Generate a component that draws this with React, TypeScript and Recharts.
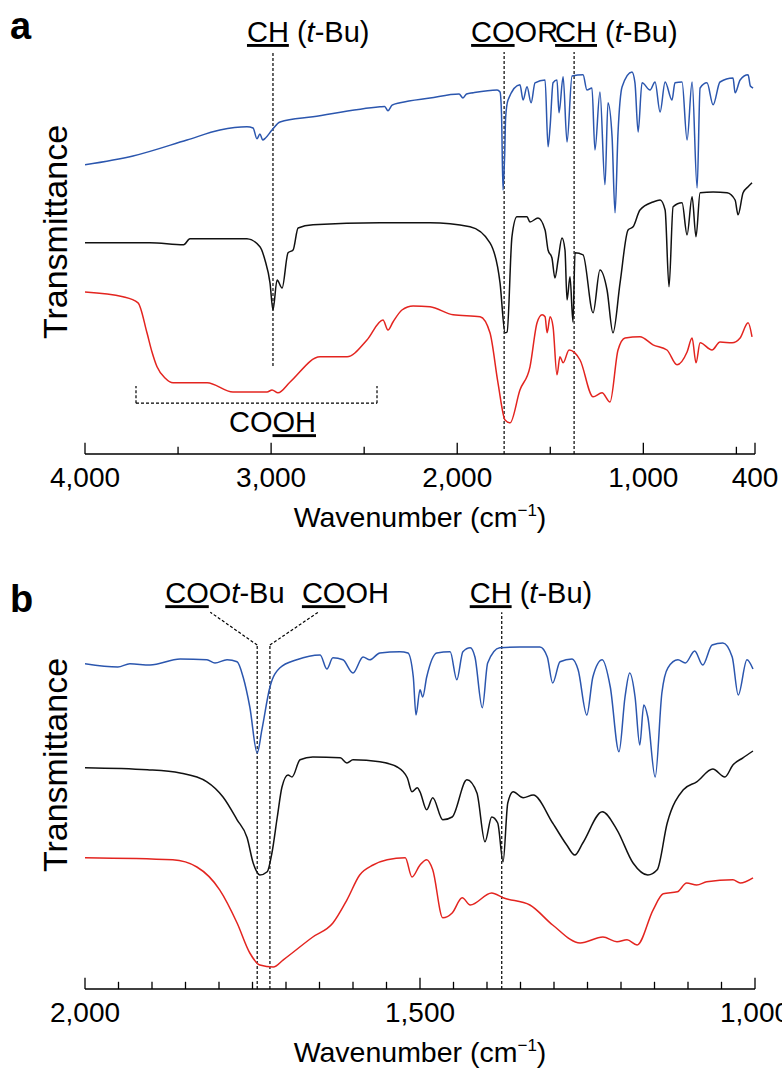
import React from 'react';
import { LineChart, Line, XAxis, YAxis, ReferenceLine } from 'recharts';

type Pt = [number, number];

// panel a: wavenumber (cm-1), transmittance (arbitrary, offset per trace)
const blueA: Pt[] = [
  [4000, 72.3], [3742, 74.5], [3452, 78.5], [3275, 81], [3130, 81.8], [3097, 81.5], [3076, 78.8], [3060, 80],
  [3045, 78.5], [3030, 79], [2995, 81], [2952, 83], [2775, 84.3], [2415, 86.8], [2390, 86.9], [2372, 85.8],
  [2350, 87.2], [2307, 87.8], [2146, 89], [1990, 90], [1969, 89], [1950, 90], [1915, 90.3], [1786, 91],
  [1770, 90.5], [1762, 85], [1754, 66], [1745, 75], [1740, 84], [1727, 88.5], [1663, 92.3], [1646, 88.5],
  [1625, 91.8], [1603, 87.8], [1582, 92.8], [1528, 93.5], [1512, 76.8], [1501, 81.8], [1485, 92.8], [1464, 93.5],
  [1453, 85.3], [1431, 94.3], [1410, 78], [1383, 94.5], [1324, 94.8], [1303, 91], [1276, 91.5], [1260, 76],
  [1233, 90.5], [1206, 67.3], [1190, 87.8], [1168, 79.3], [1152, 60.3], [1136, 80.3], [1114, 91.8], [1061, 95.5],
  [1045, 92.8], [1028, 80.5], [1007, 92.8], [964, 91], [937, 93], [910, 85.5], [883, 93], [846, 88.5],
  [830, 92.8], [792, 93], [765, 78.5], [738, 93], [711, 66.5], [695, 91.5], [658, 92.8], [625, 87.3],
  [588, 93], [518, 94], [507, 90.3], [480, 93.5], [437, 94.8], [425, 92], [410, 91.5],
];

const blackA: Pt[] = [
  [4000, 52.8], [3651, 52.8], [3470, 52.3], [3436, 53.8], [3130, 53.8], [3060, 51.8], [3033, 48.5], [3006, 42.8],
  [2990, 36], [2968, 43.5], [2941, 41.5], [2909, 50.3], [2882, 51], [2855, 56.5], [2775, 57.3], [2415, 57.8],
  [2146, 57.8], [1931, 56.8], [1824, 52.8], [1770, 42.8], [1743, 30.3], [1732, 30.5], [1706, 54.3], [1679, 59.3],
  [1625, 59.3], [1609, 58], [1566, 59], [1528, 56], [1512, 51], [1491, 49], [1475, 44], [1458, 48.5],
  [1437, 54], [1421, 51], [1410, 38.5], [1394, 44.3], [1378, 33], [1367, 50.3], [1324, 49.8], [1270, 35.3],
  [1233, 46], [1195, 41], [1163, 30.3], [1125, 42.8], [1082, 56], [1055, 56.8], [1018, 61], [948, 63],
  [910, 63.5], [883, 61], [862, 41.8], [840, 61.8], [792, 62.8], [765, 54.8], [738, 64.3], [717, 54.3],
  [695, 65.3], [625, 65.5], [550, 65.3], [507, 63.5], [491, 59.8], [464, 65.3], [437, 66.8], [416, 67.8],
];

const redA: Pt[] = [
  [4000, 40.5], [3796, 39.3], [3715, 37.8], [3667, 30.3], [3640, 25.5], [3613, 21.8], [3570, 19], [3527, 17.8],
  [3344, 17.8], [3205, 15.5], [3022, 15.5], [2995, 16], [2963, 15.3], [2898, 18], [2737, 24.3], [2592, 24.3],
  [2485, 28.5], [2399, 33.5], [2372, 31], [2345, 33], [2297, 36], [2237, 37], [2146, 36.8], [2022, 34.8],
  [1877, 34.3], [1824, 30.3], [1781, 17.8], [1743, 8.5], [1716, 7.8], [1663, 16], [1609, 21.8], [1571, 32.8],
  [1544, 34.8], [1528, 34.3], [1517, 30.3], [1501, 34.3], [1485, 31.8], [1464, 19.8], [1448, 24.3], [1431, 22.8],
  [1399, 26], [1340, 23.5], [1270, 14.3], [1222, 15.3], [1179, 13], [1136, 26], [1098, 29], [1018, 29.3],
  [948, 27.3], [873, 26], [819, 22.3], [765, 25.5], [738, 29], [717, 22.8], [695, 27.8], [631, 26],
  [588, 28], [523, 27.8], [480, 29], [437, 32.8], [416, 29.3],
];

// panel b: 2000-1000 cm-1
const blueB: Pt[] = [
  [2000, 81.3], [1951, 80.5], [1933, 81.3], [1903, 81], [1858, 82.5], [1818, 82.3], [1806, 81.5], [1788, 82.3],
  [1773, 81.8], [1764, 78], [1754, 70.5], [1743, 59], [1736, 64.8], [1724, 75.5], [1709, 80.3], [1684, 82.3],
  [1649, 83.5], [1639, 80], [1630, 82.8], [1615, 82.3], [1600, 79], [1585, 83], [1575, 82.3], [1560, 84],
  [1530, 84.3], [1518, 84], [1510, 78], [1506, 68.5], [1500, 74.8], [1496, 73], [1490, 78], [1475, 84],
  [1455, 84.3], [1445, 77.3], [1436, 84.3], [1425, 85.3], [1418, 83], [1407, 70.3], [1399, 81.5], [1381, 85.3],
  [1351, 85.5], [1321, 85.5], [1310, 83], [1302, 76.5], [1291, 81.8], [1273, 82.5], [1264, 79.8], [1251, 68.5],
  [1242, 78], [1228, 82.3], [1216, 75.5], [1203, 59.3], [1194, 73], [1187, 79], [1179, 73], [1172, 61],
  [1166, 71], [1160, 68], [1149, 53], [1139, 74], [1130, 80.3], [1115, 82.3], [1104, 81.5], [1090, 84.5],
  [1078, 81], [1064, 86], [1048, 86.5], [1034, 83], [1025, 73.5], [1012, 82.3], [1003, 80],
];

const blackB: Pt[] = [
  [2000, 55.3], [1907, 54.8], [1858, 54], [1818, 51.8], [1794, 48], [1773, 42.3], [1758, 37.8], [1749, 31.5],
  [1739, 28.5], [1728, 29.3], [1721, 34], [1713, 43], [1706, 50.5], [1697, 53.5], [1691, 53], [1679, 57.3],
  [1660, 58], [1619, 57.8], [1609, 56.5], [1600, 57.3], [1560, 56.8], [1534, 55.5], [1519, 52.8], [1512, 49.3],
  [1504, 50.3], [1500, 49.3], [1490, 44.8], [1481, 47.8], [1466, 42.3], [1452, 43], [1430, 52.3], [1415, 49],
  [1403, 36.8], [1393, 43], [1384, 41.5], [1376, 31.8], [1369, 46.5], [1361, 49.3], [1346, 47.8], [1331, 48.5],
  [1302, 41.5], [1281, 36], [1269, 33.5], [1257, 36.5], [1228, 44.3], [1206, 39.8], [1182, 31.5], [1160, 28.5],
  [1146, 29.8], [1131, 41.5], [1107, 49.8], [1087, 51.8], [1063, 55], [1045, 53], [1033, 56], [1018, 57.8],
  [1003, 59.5],
];

const redB: Pt[] = [
  [2000, 32.8], [1869, 32.3], [1833, 30.5], [1799, 24.8], [1773, 16.5], [1754, 9], [1739, 6], [1719, 5.5],
  [1704, 7.3], [1660, 13], [1630, 16.5], [1609, 22.3], [1590, 28.5], [1570, 31], [1549, 32.3], [1522, 32.8],
  [1512, 28], [1500, 31], [1490, 32.3], [1481, 29.8], [1466, 17.8], [1452, 19], [1437, 22.8], [1425, 21],
  [1393, 24], [1376, 22.8], [1336, 21], [1302, 16], [1261, 11.5], [1227, 13], [1206, 11.8], [1191, 12.3],
  [1176, 11], [1152, 19.8], [1137, 23.8], [1116, 24.3], [1102, 26.5], [1087, 26], [1072, 26.8], [1033, 27.3],
  [1022, 26.5], [1003, 27.8],
];

const ticksA = [4000, 3500, 3000, 2500, 2000, 1500, 1000, 500, 400];
const majorA = [4000, 3000, 2000, 1000, 400];
const ticksB = [2000, 1950, 1900, 1850, 1800, 1750, 1700, 1650, 1600, 1550, 1500, 1450, 1400, 1350, 1300, 1250, 1200, 1150, 1100, 1050, 1000];
const majorB = [2000, 1500, 1000];

const FONT = '"Liberation Sans", Arial, Helvetica, sans-serif';
const BLUE = '#2b56ae';
const RED = '#e3241f';
const BLACK = '#111111';

const toRows = (pts: Pt[]) => pts.map(([w, t]) => ({ w, t }));

// tick labels only; the tick marks are drawn as short segments pointing into the plot
const tickLabel = (majors: number[]) => (props: any) => {
  const { x, y, payload } = props;
  const v = payload.value;
  if (!majors.includes(v)) return <g />;
  return (
    <text x={x} y={y + 33} textAnchor="middle" fontFamily={FONT} fontSize={28} fill="#000">
      {v.toLocaleString('en-US')}
    </text>
  );
};

const tickMarks = (ticks: number[], majors: number[]) =>
  ticks.map((v) => (
    <ReferenceLine key={`tk-${v}`} segment={[{ x: v, y: 0 }, { x: v, y: majors.includes(v) ? 2.8 : 1.8 }]}
      stroke="#000" strokeWidth={1.3} ifOverflow="visible" />
  ));

const XTitle = (props: any) => {
  const { x, y, width } = props.viewBox;
  return (
    <text x={x + width / 2} y={y + 73} textAnchor="middle" fontFamily={FONT} fontSize={28.5} fill="#000">
      Wavenumber (cm<tspan dy={-11} fontSize={17}>−1</tspan>
      <tspan dy={11}>)</tspan>
    </text>
  );
};

type Part = { t: string; u?: boolean; i?: boolean };

const Annot = ({ x, y, parts, anchor = 'start' }: { x: number; y: number; parts: Part[]; anchor?: string }) => (
  <text x={x} y={y} textAnchor={anchor as any} fontFamily={FONT} fontSize={29} fill="#000">
    {parts.map((p, k) => (
      <tspan key={k} style={{ textDecoration: p.u ? 'underline' : 'none', fontStyle: p.i ? 'italic' : 'normal' }}>
        {p.t}
      </tspan>
    ))}
  </text>
);

const CH_TBU: Part[] = [{ t: 'CH', u: true }, { t: ' (' }, { t: 't', i: true }, { t: '-Bu)' }];

const dash = { stroke: '#000', strokeDasharray: '3 2', strokeWidth: 1.2, ifOverflow: 'visible' as const };

const lineProps = { dataKey: 't', dot: false, strokeWidth: 1.5, isAnimationActive: false, activeDot: false, type: 'monotone' as const };

const PanelA = () => (
  <LineChart width={782} height={540} margin={{ top: 54, right: 27, bottom: 26, left: 85 }}>
    <XAxis type="number" dataKey="w" domain={[400, 4000]} reversed ticks={ticksA} interval={0}
      tick={tickLabel(majorA)} tickLine={false} tickSize={0} tickMargin={0} height={60}
      axisLine={{ stroke: '#000', strokeWidth: 1.3 }} allowDataOverflow label={{ content: XTitle }} />
    <YAxis type="number" domain={[0, 100]} width={0} tick={false} tickLine={false}
      axisLine={{ stroke: '#000', strokeWidth: 1.3 }} allowDataOverflow />
    {tickMarks(ticksA, majorA)}
    <ReferenceLine {...dash} segment={[{ x: 2990, y: 22 }, { x: 2990, y: 100.5 }]}
      label={{ content: (p: any) => <Annot x={p.viewBox.x - 26} y={p.viewBox.y - 10} parts={CH_TBU} /> }} />
    <ReferenceLine {...dash} segment={[{ x: 1748, y: 0 }, { x: 1748, y: 100.5 }]}
      label={{ content: (p: any) => <Annot x={p.viewBox.x - 33} y={p.viewBox.y - 10} parts={[{ t: 'CO', u: true }, { t: 'OR' }]} /> }} />
    <ReferenceLine {...dash} segment={[{ x: 1372, y: 0 }, { x: 1372, y: 100.5 }]}
      label={{ content: (p: any) => <Annot x={p.viewBox.x - 19} y={p.viewBox.y - 10} parts={CH_TBU} /> }} />
    <ReferenceLine {...dash} segment={[{ x: 3726, y: 12.7 }, { x: 2431, y: 12.7 }]}
      label={{ content: (p: any) => <Annot x={p.viewBox.x + p.viewBox.width / 2 + 16} y={p.viewBox.y + 29} anchor="middle" parts={[{ t: 'CO' }, { t: 'OH', u: true }]} /> }} />
    <ReferenceLine {...dash} segment={[{ x: 3726, y: 12.7 }, { x: 3726, y: 17 }]} />
    <ReferenceLine {...dash} segment={[{ x: 2431, y: 12.7 }, { x: 2431, y: 17 }]} />
    <Line {...lineProps} data={toRows(blueA)} stroke={BLUE} />
    <Line {...lineProps} data={toRows(blackA)} stroke={BLACK} />
    <Line {...lineProps} data={toRows(redA)} stroke={RED} />
  </LineChart>
);

const PanelB = () => (
  <LineChart width={782} height={531} margin={{ top: 81, right: 27, bottom: 22, left: 85 }}>
    <XAxis type="number" dataKey="w" domain={[1000, 2000]} reversed ticks={ticksB} interval={0}
      tick={tickLabel(majorB)} tickLine={false} tickSize={0} tickMargin={0} height={60}
      axisLine={{ stroke: '#000', strokeWidth: 1.3 }} allowDataOverflow label={{ content: XTitle }} />
    <YAxis type="number" domain={[0, 92]} width={0} tick={false} tickLine={false}
      axisLine={{ stroke: '#000', strokeWidth: 1.3 }} allowDataOverflow />
    {tickMarks(ticksB, majorB)}
    <ReferenceLine {...dash} segment={[{ x: 1743, y: 0 }, { x: 1743, y: 86 }]} />
    <ReferenceLine {...dash} segment={[{ x: 1724, y: 0 }, { x: 1724, y: 86 }]} />
    <ReferenceLine {...dash} segment={[{ x: 1743, y: 86 }, { x: 1813, y: 94.2 }]}
      label={{ content: (p: any) => <Annot x={p.viewBox.x - 45} y={p.viewBox.y - 9} parts={[{ t: 'CO', u: true }, { t: 'O' }, { t: 't', i: true }, { t: '-Bu' }]} /> }} />
    <ReferenceLine {...dash} segment={[{ x: 1724, y: 86 }, { x: 1652, y: 94.2 }]}
      label={{ content: (p: any) => <Annot x={p.viewBox.x + 32} y={p.viewBox.y - 9} parts={[{ t: 'CO', u: true }, { t: 'OH' }]} /> }} />
    <ReferenceLine {...dash} segment={[{ x: 1378, y: 0 }, { x: 1378, y: 94.2 }]}
      label={{ content: (p: any) => <Annot x={p.viewBox.x - 32} y={p.viewBox.y - 9} parts={CH_TBU} /> }} />
    <Line {...lineProps} data={toRows(blueB)} stroke={BLUE} />
    <Line {...lineProps} data={toRows(blackB)} stroke={BLACK} />
    <Line {...lineProps} data={toRows(redB)} stroke={RED} />
  </LineChart>
);

export default function App() {
  return (
    <div style={{ position: 'absolute', left: 0, top: 0, width: 782, height: 1071, background: '#fff', overflow: 'hidden' }}>
      <div style={{ position: 'absolute', left: 0, top: 0 }}>
        <PanelA />
      </div>
      <div style={{ position: 'absolute', left: 0, top: 540 }}>
        <PanelB />
      </div>
      <svg width={782} height={1071} style={{ position: 'absolute', left: 0, top: 0, pointerEvents: 'none' }}>
        <text x={10} y={39} fontFamily={FONT} fontSize={38} fontWeight="bold" fill="#000">a</text>
        <text x={10} y={612} fontFamily={FONT} fontSize={38} fontWeight="bold" fill="#000">b</text>
        <text x={55} y={232} transform="rotate(-90 55 232)" textAnchor="middle" dominantBaseline="central"
          fontFamily={FONT} fontSize={34} fill="#000">Transmittance</text>
        <text x={55} y={765} transform="rotate(-90 55 765)" textAnchor="middle" dominantBaseline="central"
          fontFamily={FONT} fontSize={34} fill="#000">Transmittance</text>
      </svg>
    </div>
  );
}
